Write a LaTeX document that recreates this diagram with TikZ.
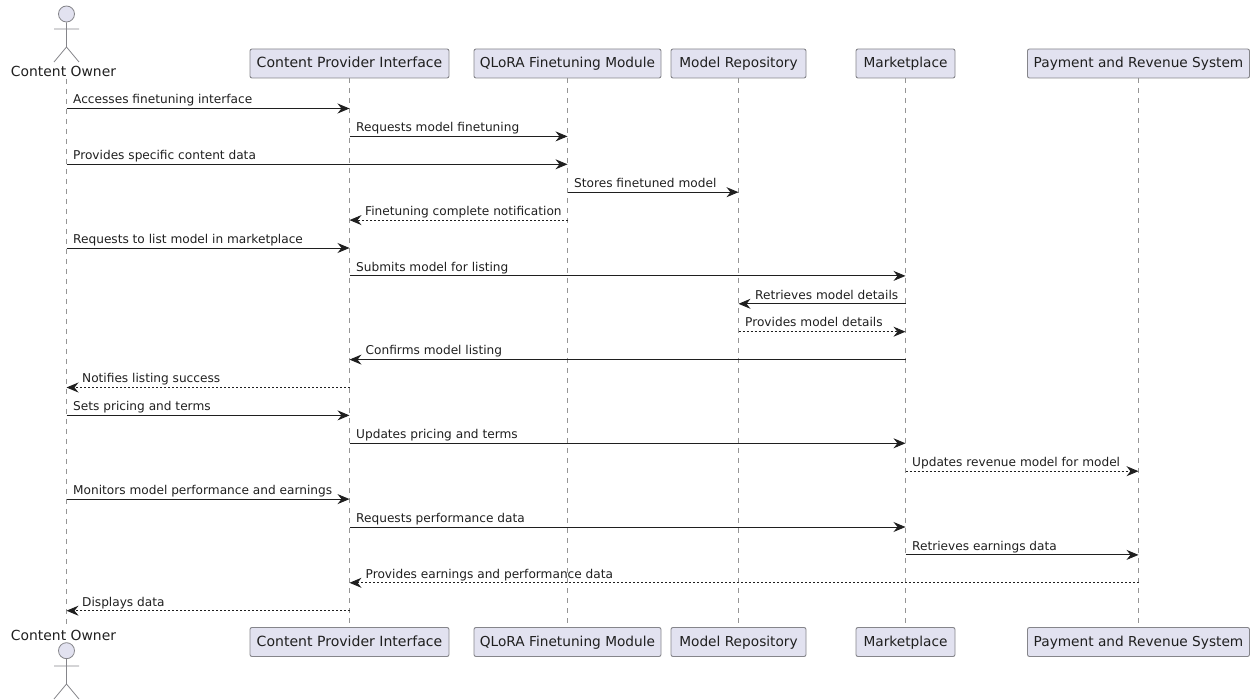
\documentclass[tikz,border=0pt]{standalone}
\usepackage{fontspec}
\setmainfont{DejaVu Sans}
\usetikzlibrary{arrows.meta}
\definecolor{partfill}{HTML}{E2E2F0}
\definecolor{partline}{HTML}{85858A}
\definecolor{lifeline}{HTML}{959595}
\definecolor{inkc}{HTML}{1F1F1F}
\tikzset{
  part/.style={draw=partline,fill=partfill,rounded corners=2,line width=.9,minimum height=29,inner sep=0,text=inkc,text height=12,text depth=3,font=\fontsize{13.7}{16}\selectfont},
  widepart/.style={part,font=\fontsize{14.05}{16}\selectfont},
  actortext/.style={text=inkc,inner sep=0,font=\fontsize{13.9}{16}\selectfont},
  actorline/.style={draw=partline,line width=.8},
  lifel/.style={draw=lifeline,line width=.8,dash pattern=on 5 off 5},
  msgl/.style={draw=inkc,line width=.9,-{Stealth[length=12,width=10,inset=4]}},
  sync/.style={msgl},
  resp/.style={msgl,dash pattern=on 2 off 2},
  msgt/.style={text=inkc,inner sep=0,anchor=base west,font=\fontsize{12.15}{14}\selectfont},
}
\newcommand{\mymsg}[6]{% from, to, y, style, text x offset, label
  \draw[#4] (#1 |- 0,#3) -- (#2 |- 0,#3);
  \node[msgt] at ([xshift=#5]#1 |- 0,#3) [yshift=4.7] {\vphantom{g}#6};
}
\begin{document}
\begin{tikzpicture}[x=1pt,y=-1pt]
\useasboundingbox (0,0) rectangle (1251,700);
% participants, top
\node[actortext] (ownerT) at (63.5,71) {Content Owner};
\node[widepart,minimum width=199] (cpiT) at (349.5,63.5) {Content Provider Interface};
\node[part,minimum width=187] (qloT) at (567.5,63.5) {QLoRA Finetuning Module};
\node[part,minimum width=135] (repT) at (738.5,63.5) {Model Repository};
\node[part,minimum width=99] (mktT) at (905.5,63.5) {Marketplace};
\node[part,minimum width=222] (payT) at (1138.5,63.5) {Payment and Revenue System};
% participants, bottom
\node[actortext] (ownerB) at (63.5,635) {Content Owner};
\node[widepart,minimum width=199] (cpiB) at (349.5,642) {Content Provider Interface};
\node[part,minimum width=187] (qloB) at (567.5,642) {QLoRA Finetuning Module};
\node[part,minimum width=135] (repB) at (738.5,642) {Model Repository};
\node[part,minimum width=99] (mktB) at (905.5,642) {Marketplace};
\node[part,minimum width=222] (payB) at (1138.5,642) {Payment and Revenue System};
% anchor points for the owner's lifeline
\coordinate (own) at (66.5,79);
\coordinate (ownEnd) at (66.5,627);
% lifelines
\draw[lifel] (own) -- (ownEnd);
\draw[lifel] (cpiT) ++(0,14.5) -- (cpiB.north);
\draw[lifel] (qloT) ++(0,14.5) -- (qloB.north);
\draw[lifel] (repT) ++(0,14.5) -- (repB.north);
\draw[lifel] (mktT) ++(0,14.5) -- (mktB.north);
\draw[lifel] (payT) ++(0,14.5) -- (payB.north);
% actor figures
\node[circle,draw=partline,fill=partfill,line width=.8,minimum size=16,inner sep=0] (headT) at (66.5,14) {};
\draw[actorline] (headT.south) -- (66.5,47) (54,29) -- (79,29) (54,62) -- (66.5,47) -- (79,62);
\node[circle,draw=partline,fill=partfill,line width=.8,minimum size=16,inner sep=0] (headB) at (66.5,650.7) {};
\draw[actorline] (headB.south) -- (66.5,684) (54,666) -- (79,666) (54,699) -- (66.5,684) -- (79,699);
% messages
\mymsg{own}{cpiT}{108.5}{sync}{6.5}{Accesses finetuning interface}
\mymsg{cpiT}{qloT}{136.4}{sync}{6.5}{Requests model finetuning}
\mymsg{own}{qloT}{164.3}{sync}{6.5}{Provides specific content data}
\mymsg{qloT}{repT}{192.2}{sync}{6.5}{Stores finetuned model}
\mymsg{qloT}{cpiT}{220.1}{resp}{-202.5}{Finetuning complete notification}
\mymsg{own}{cpiT}{248}{sync}{6.5}{Requests to list model in marketplace}
\mymsg{cpiT}{mktT}{275.9}{sync}{6.5}{Submits model for listing}
\mymsg{mktT}{repT}{303.8}{sync}{-150.5}{Retrieves model details}
\mymsg{repT}{mktT}{331.7}{resp}{6.5}{Provides model details}
\mymsg{mktT}{cpiT}{359.6}{sync}{-540}{Confirms model listing}
\mymsg{cpiT}{own}{387.5}{resp}{-267.5}{Notifies listing success}
\mymsg{own}{cpiT}{415.4}{sync}{6.5}{Sets pricing and terms}
\mymsg{cpiT}{mktT}{443.3}{sync}{6.5}{Updates pricing and terms}
\mymsg{mktT}{payT}{471.2}{resp}{6.5}{Updates revenue model for model}
\mymsg{own}{cpiT}{499.1}{sync}{6.5}{Monitors model performance and earnings}
\mymsg{cpiT}{mktT}{527}{sync}{6.5}{Requests performance data}
\mymsg{mktT}{payT}{554.9}{sync}{6.5}{Retrieves earnings data}
\mymsg{payT}{cpiT}{582.8}{resp}{-773}{Provides earnings and performance data}
\mymsg{cpiT}{own}{610.7}{resp}{-267.5}{Displays data}
\end{tikzpicture}
\end{document}
